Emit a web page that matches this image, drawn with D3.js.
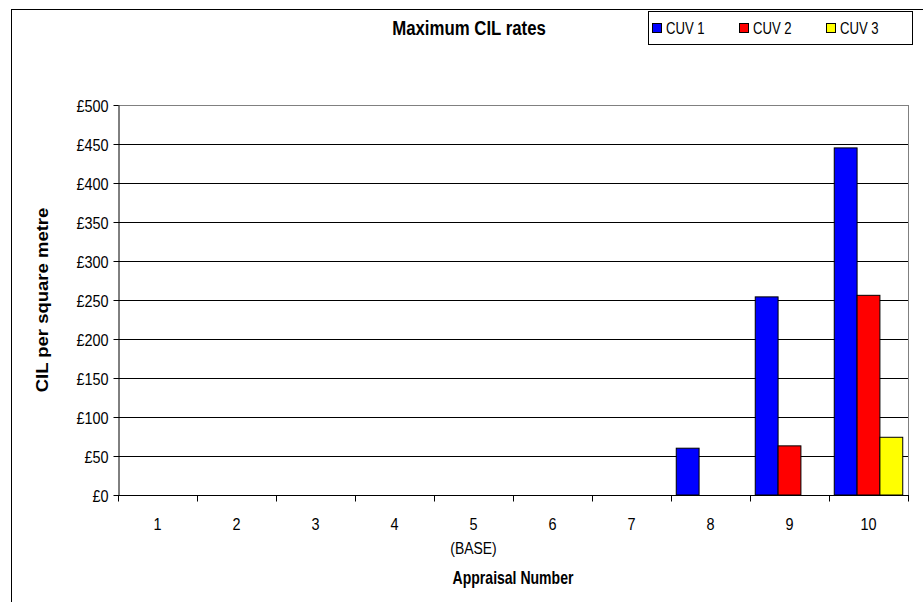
<!DOCTYPE html>
<html>
<head>
<meta charset="utf-8">
<script src="https://cdn.jsdelivr.net/npm/d3@7"></script>
<style>
  html, body { margin: 0; padding: 0; background: #fff; }
  svg { display: block; font-family: "Liberation Sans", Arial, sans-serif; }
</style>
</head>
<body>
<svg id="chart" width="923" height="602"></svg>
<script>
// Appraisal categories and the maximum CIL rate for each charging zone
const appraisals = ["1", "2", "3", "4", "5", "6", "7", "8", "9", "10"];
const appraisalNotes = ["", "", "", "", "(BASE)", "", "", "", "", ""];
const seriesNames = ["CUV 1", "CUV 2", "CUV 3"];
const seriesColors = ["#0000ff", "#ff0000", "#ffff00"];
const cuv1 = [0, 0, 0, 0, 0, 0, 0, 60, 254, 445];
const cuv2 = [0, 0, 0, 0, 0, 0, 0, 0, 63, 256];
const cuv3 = [0, 0, 0, 0, 0, 0, 0, 0, 0, 74];
const yTicks = [0, 50, 100, 150, 200, 250, 300, 350, 400, 450, 500];

const series = [cuv1, cuv2, cuv3];

const svg = d3.select("#chart");
const W = 923, H = 602;
const plot = { left: 118, top: 105, right: 908, bottom: 495 };

// text is drawn slightly condensed horizontally
function label(parent, x, y, str, opts) {
  const o = Object.assign({ size: 16, weight: "normal", anchor: "middle", sx: 0.88, rotate: 0 }, opts);
  const g = parent.append("g")
    .attr("transform", `translate(${x},${y}) scale(${o.sx},1)` + (o.rotate ? ` rotate(${o.rotate})` : ""));
  g.append("text")
    .attr("text-anchor", o.anchor)
    .attr("font-size", o.size)
    .attr("font-weight", o.weight)
    .attr("fill", "#000")
    .text(str);
  return g;
}

// outer chart frame
svg.append("rect")
  .attr("x", 11.5).attr("y", 9.5)
  .attr("width", W + 20).attr("height", H + 20)
  .attr("fill", "#fff").attr("stroke", "#000").attr("stroke-width", 1);

const x = d3.scaleBand().domain(appraisals).range([plot.left, plot.right]).paddingInner(0).paddingOuter(0);
const groupInner = d3.scaleBand().domain(d3.range(seriesNames.length))
  .range([0, x.bandwidth()]).paddingOuter(0.23).paddingInner(0);
const y = d3.scaleLinear().domain([0, 500]).range([plot.bottom, plot.top]);

// horizontal gridlines
svg.append("g")
  .selectAll("line")
  .data(yTicks.filter(t => t > 0))
  .join("line")
  .attr("x1", plot.left).attr("x2", plot.right)
  .attr("y1", d => Math.round(y(d)) + 0.5).attr("y2", d => Math.round(y(d)) + 0.5)
  .attr("stroke", d => d === 500 ? "#808080" : "#000").attr("stroke-width", 1);

// right border of plot area
svg.append("line")
  .attr("x1", plot.right + 0.5).attr("x2", plot.right + 0.5)
  .attr("y1", plot.top).attr("y2", plot.bottom)
  .attr("stroke", "#808080");

// bars
const groups = svg.append("g").selectAll("g")
  .data(appraisals)
  .join("g")
  .attr("transform", d => `translate(${x(d)},0)`);

groups.selectAll("rect")
  .data((d, i) => series.map((s, k) => ({ k, v: s[i] })).filter(e => e.v > 0))
  .join("rect")
  .attr("x", d => groupInner(d.k))
  .attr("y", d => y(d.v))
  .attr("width", groupInner.bandwidth())
  .attr("height", d => y(0) - y(d.v))
  .attr("fill", d => seriesColors[d.k])
  .attr("stroke", "#000").attr("stroke-width", 1);

// y axis
const tickSx = 0.85;
const yAxis = svg.append("g")
  .attr("transform", `translate(${plot.left + 0.5},0)`)
  .call(d3.axisLeft(y).tickValues(yTicks).tickFormat(d => "£" + d).tickSizeOuter(0).tickSizeInner(5).tickPadding(9));
yAxis.select(".domain").attr("stroke", "#000");
yAxis.selectAll(".tick line").attr("stroke", "#000");
yAxis.selectAll(".tick text")
  .attr("font-size", 17).attr("fill", "#000")
  .attr("font-family", "'Liberation Sans', Arial, sans-serif")
  .attr("x", -10 / tickSx)
  .attr("dy", "0.36em")
  .attr("transform", `scale(${tickSx},1)`);

// x axis with ticks at category boundaries
const xAxisG = svg.append("g").attr("transform", `translate(0,${plot.bottom + 0.5})`);
xAxisG.append("line")
  .attr("x1", plot.left).attr("x2", plot.right + 1)
  .attr("stroke", "#000");
xAxisG.selectAll("line.tick")
  .data(appraisals.concat(["end"]))
  .join("line")
  .attr("class", "tick")
  .attr("x1", (d, i) => Math.round(plot.left + i * x.bandwidth()) + 0.5)
  .attr("x2", (d, i) => Math.round(plot.left + i * x.bandwidth()) + 0.5)
  .attr("y1", 0).attr("y2", 6)
  .attr("stroke", "#000");
appraisals.forEach((d, i) => {
  label(xAxisG, x(d) + x.bandwidth() / 2, 34, d, { size: 17, sx: 0.85 });
  if (appraisalNotes[i]) label(xAxisG, x(d) + x.bandwidth() / 2, 58, appraisalNotes[i], { size: 17, sx: 0.82 });
});

// axis titles
label(svg, (plot.left + plot.right) / 2, 584, "Appraisal Number", { size: 18, weight: "bold", sx: 0.78 });
label(svg, 48, (plot.top + plot.bottom) / 2, "CIL per square metre", { size: 18.5, weight: "bold", sx: 0.85, rotate: -90 });

// chart title
label(svg, 469, 35, "Maximum CIL rates", { size: 21, weight: "bold", sx: 0.8 });

// legend
const legend = svg.append("g");
legend.append("rect")
  .attr("x", 648.5).attr("y", 11.5).attr("width", 264).attr("height", 33)
  .attr("fill", "#fff").attr("stroke", "#000");
const legItems = legend.selectAll("g")
  .data(seriesNames)
  .join("g")
  .attr("transform", (d, i) => `translate(${652 + i * 87},28)`);
legItems.append("rect")
  .attr("x", 0.5).attr("y", -4.5).attr("width", 9).attr("height", 9)
  .attr("fill", (d, i) => seriesColors[i]).attr("stroke", "#000");
legItems.each(function (d) {
  label(d3.select(this), 14, 6, d, { size: 16, sx: 0.82, anchor: "start" });
});
</script>
</body>
</html>
